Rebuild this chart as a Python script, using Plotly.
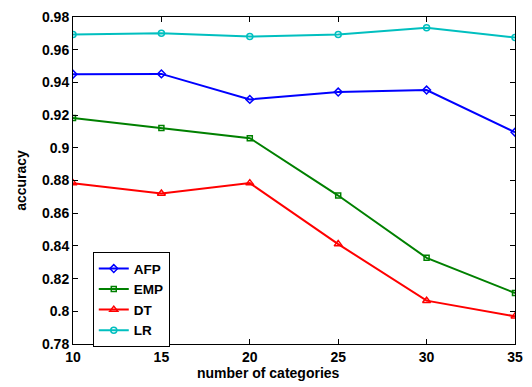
import plotly.graph_objects as go

categories = [10, 15, 20, 25, 30, 35]
afp = [0.9450, 0.9452, 0.9296, 0.9341, 0.9353, 0.9095]
emp = [0.9182, 0.9121, 0.9059, 0.8708, 0.8327, 0.8112]
dt = [0.8784, 0.8720, 0.8784, 0.8411, 0.8065, 0.7969]
lr = [0.9693, 0.9700, 0.9680, 0.9693, 0.9734, 0.9674]

series = [
    ("AFP", afp, "#0000FF", "diamond-open", 6),
    ("EMP", emp, "#008000", "square-open", 5),
    ("DT", dt, "#FF0000", "triangle-up-open", 7),
    ("LR", lr, "#00BFBF", "circle-open", 6),
]

FONT = "Liberation Sans, Arial, Helvetica, sans-serif"

fig = go.Figure()
for name, vals, color, sym, sz in series:
    fig.add_trace(go.Scatter(
        x=categories, y=vals, name=name, mode="lines+markers",
        line=dict(color=color, width=2),
        marker=dict(symbol=sym, size=sz, color=color, line=dict(color=color, width=1.5)),
    ))

axis_common = dict(
    showline=True, linecolor="black", linewidth=1, mirror="ticks",
    ticks="inside", ticklen=5, tickwidth=1, tickcolor="black",
    showgrid=False, zeroline=False,
    tickfont=dict(family=FONT, size=14, color="black", weight="bold"),
)

fig.update_xaxes(range=[10, 35], tickvals=[10, 15, 20, 25, 30, 35], **axis_common)
fig.update_yaxes(range=[0.78, 0.98], tickvals=[0.78, 0.80, 0.82, 0.84, 0.86, 0.88, 0.90, 0.92, 0.94, 0.96, 0.98],
                 ticktext=["0.78", "0.8", "0.82", "0.84", "0.86", "0.88", "0.9", "0.92", "0.94", "0.96", "0.98"],
                 title=dict(text="accuracy", font=dict(family=FONT, size=14, color="black", weight="bold"), standoff=12),
                 **axis_common)

fig.add_annotation(
    text="number of categories", xref="paper", yref="paper",
    x=(270.5 - 73) / 447, y=-(374 - 344) / 335, xanchor="center", yanchor="middle",
    showarrow=False, font=dict(family=FONT, size=14, color="black", weight="bold"),
)

fig.update_layout(
    width=532, height=387,
    margin=dict(l=73, r=12, t=9, b=43),
    paper_bgcolor="white", plot_bgcolor="white",
    showlegend=True,
    legend=dict(
        x=(93 - 73) / 447, y=(344 - 250) / 335, xanchor="left", yanchor="top",
        bgcolor="white", bordercolor="black", borderwidth=1,
        font=dict(family=FONT, size=13.5, color="black", weight="bold"),
        itemwidth=30, tracegroupgap=0,
    ),
)

fig.write_html("out.html")
